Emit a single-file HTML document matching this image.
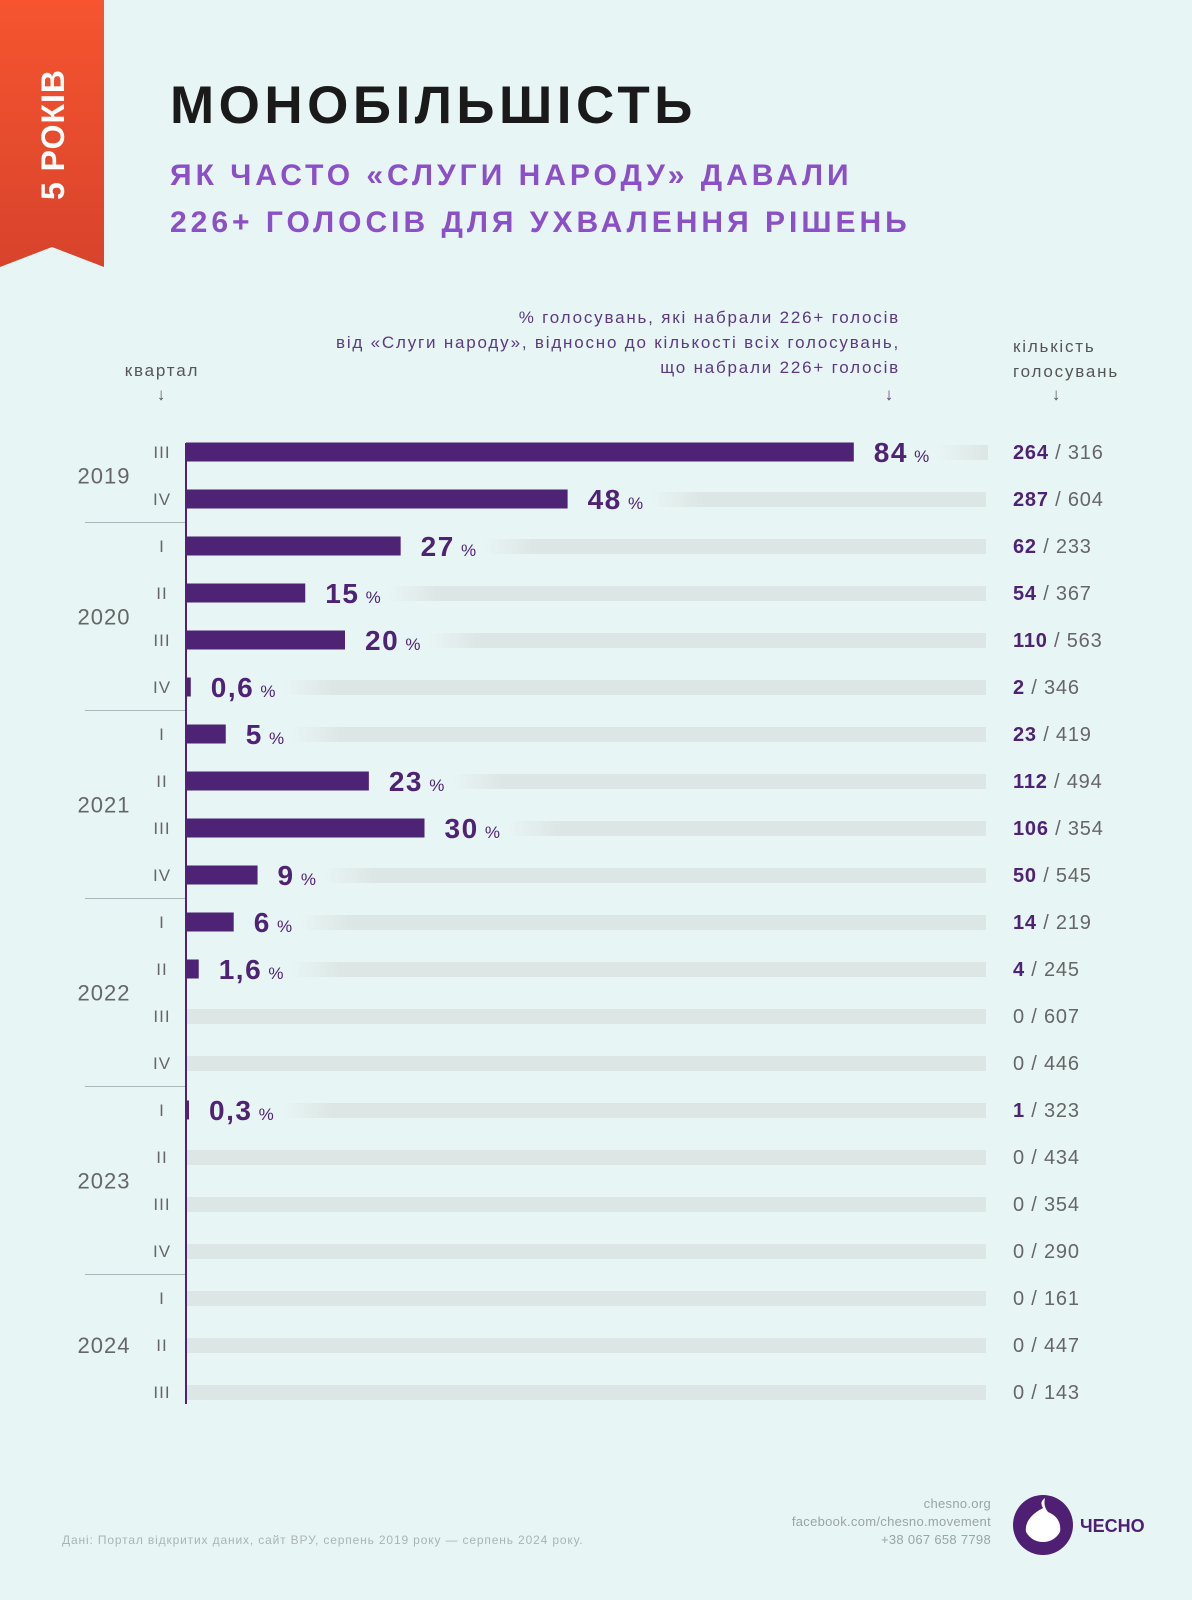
<!DOCTYPE html>
<html><head><meta charset="utf-8">
<style>
html,body{margin:0;padding:0;background:#e8f5f5;}
body{width:1192px;height:1600px;position:relative;overflow:hidden;font-family:"Liberation Sans","DejaVu Sans",sans-serif;}
</style></head>
<body>
<svg id="chart" width="1192" height="1600" viewBox="0 0 1192 1600" xmlns="http://www.w3.org/2000/svg" style="position:absolute;left:0;top:0">
<defs>
<linearGradient id="rib" x1="0" y1="0" x2="0" y2="1"><stop offset="0" stop-color="#f6552f"/><stop offset="1" stop-color="#d8432c"/></linearGradient>
<linearGradient id="fade" x1="0" y1="0" x2="1" y2="0"><stop offset="0" stop-color="#dce6e4" stop-opacity="0"/><stop offset="1" stop-color="#dce6e4"/></linearGradient>
</defs>
<g>
<polygon points="0,0 104,0 104,267 52,247 0,267" fill="url(#rib)"/>
<text x="0" y="0" transform="translate(64,200) rotate(-90)" font-size="32" font-weight="bold" fill="#ffffff" letter-spacing="1">5 РОКІВ</text>
</g>
<text x="170" y="123" font-size="53" font-weight="bold" fill="#1a1a1a" letter-spacing="4.5">МОНОБІЛЬШІСТЬ</text>
<text x="170" y="185" font-size="30" font-weight="bold" fill="#8b4fc8" letter-spacing="4">ЯК ЧАСТО «СЛУГИ НАРОДУ» ДАВАЛИ</text>
<text x="170" y="232" font-size="30" font-weight="bold" fill="#8b4fc8" letter-spacing="4">226+ ГОЛОСІВ ДЛЯ УХВАЛЕННЯ РІШЕНЬ</text>

<g font-size="17" fill="#5a3a80" text-anchor="end" letter-spacing="1.8">
<text x="900" y="323">% голосувань, які набрали 226+ голосів</text>
<text x="900" y="348">від «Слуги народу», відносно до кількості всіх голосувань,</text>
<text x="900" y="373">що набрали 226+ голосів</text>
<text x="895" y="400">↓</text>
</g>
<g font-size="17" fill="#555" text-anchor="middle" letter-spacing="1.8">
<text x="162" y="376">квартал</text><text x="162" y="400">↓</text>
</g>
<g font-size="17" fill="#555" letter-spacing="1.8">
<text x="1013" y="352">кількість</text><text x="1013" y="377">голосувань</text><text x="1057" y="400" text-anchor="middle">↓</text>
</g>
<g id="plot"></g>
<g>
<text x="62" y="1544" font-size="12" fill="#aab4b4" letter-spacing="0.85">Дані: Портал відкритих даних, сайт ВРУ, серпень 2019 року — серпень 2024 року.</text>
<g font-size="13" fill="#9aa4a4" text-anchor="end" letter-spacing="0.3">
<text x="991" y="1508">chesno.org</text>
<text x="991" y="1526">facebook.com/chesno.movement</text>
<text x="991" y="1544">+38 067 658 7798</text>
</g>
<g>
<circle cx="1043" cy="1525" r="30" fill="#4e1f73"/>
<path d="M1043 1508 q-4 -6 2 -10 q-2 8 3 14 q14 6 12 20 q-6 10 -17 10 q-11 0 -17 -10 q-2 -14 17 -24z" fill="#ffffff"/>
<text x="1080" y="1532" font-size="18" font-weight="bold" fill="#4e1f73">ЧЕСНО</text>
</g>
</g>
</svg>
<script>
const quarters = ["III","IV","I","II","III","IV","I","II","III","IV","I","II","III","IV","I","II","III","IV","I","II","III"];
const years = ["2019","2020","2021","2022","2023","2024"];
const yearRows = [2,4,4,4,4,3];
const values = [84,48,27,15,20,0.6,5,23,30,9,6,1.6,0,0,0.3,0,0,0,0,0,0];
const valueLabels = ["84","48","27","15","20","0,6","5","23","30","9","6","1,6","","","0,3","","","","","",""];
const passed = [264,287,62,54,110,2,23,112,106,50,14,4,0,0,1,0,0,0,0,0,0];
const totals = [316,604,233,367,563,346,419,494,354,545,219,245,607,446,323,434,354,290,161,447,143];

const NS="http://www.w3.org/2000/svg";
const plot=document.getElementById('plot');
const x0=186, pxPer=795/100, trackEnd=986;
const yRow=i=>452+47*i;
const xVal=v=>x0+v*pxPer;
function mk(tag,attrs,txt){const e=document.createElementNS(NS,tag);for(const k in attrs)e.setAttribute(k,attrs[k]);if(txt!==undefined)e.textContent=txt;plot.appendChild(e);return e;}
function measure(txt,size,weight){const t=mk('text',{x:0,y:-100,'font-size':size,'font-weight':weight,'letter-spacing':1.5},txt);const w=t.getComputedTextLength();plot.removeChild(t);return w;}

values.forEach((v,i)=>{
  const y=yRow(i);
  const bw=v>0?Math.max(xVal(v)-x0,3):0;
  let trackStart=x0;
  let lx=x0+bw+20;
  if(valueLabels[i]){
    const w1=measure(valueLabels[i],28,'bold');
    trackStart=lx+w1+30;
  }
  const tr=mk('rect',{x:trackStart,y:y-7,width:trackEnd-trackStart,height:15,fill:'#dce6e4'});
  
  
  if(valueLabels[i]){
    const fd=mk('rect',{x:trackStart,y:y-7,width:50,height:15,fill:'url(#fade)'});
    tr.setAttribute('x',trackStart+50);tr.setAttribute('width',Math.max(0,trackEnd-trackStart-50));
    
    
  }
  if(bw>0){
    const b=mk('rect',{x:x0,y:y-9.5,width:bw,height:19,fill:'#4e2274'});
    
    
  }
  if(valueLabels[i]){
    const t=mk('text',{x:lx,y:y+10,'font-size':28,'font-weight':'bold',fill:'#4e2274','letter-spacing':1.5});
    
    
    const s1=document.createElementNS(NS,'tspan');s1.textContent=valueLabels[i];t.appendChild(s1);
    const s2=document.createElementNS(NS,'tspan');s2.textContent=' %';s2.setAttribute('font-size','17');s2.setAttribute('font-weight','normal');t.appendChild(s2);
  }
  const q=mk('text',{x:162,y:y+6,'font-size':17,fill:'#666','text-anchor':'middle','letter-spacing':1},quarters[i]);
  
  
  const c=mk('text',{x:1013,y:y+7,'font-size':20,fill:'#666','letter-spacing':0.8});
  
  
  const c1=document.createElementNS(NS,'tspan');c1.textContent=passed[i];
  if(passed[i]>0){c1.setAttribute('font-weight','bold');c1.setAttribute('fill','#4e2274');}
  c.appendChild(c1);
  const c2=document.createElementNS(NS,'tspan');c2.textContent=' / '+totals[i];c.appendChild(c2);
});
let r=0;
years.forEach((yr,k)=>{
  const n=yearRows[k];
  const yc=(yRow(r)+yRow(r+n-1))/2;
  const t=mk('text',{x:104,y:yc+8,'font-size':22,fill:'#666','text-anchor':'middle','letter-spacing':1},yr);
  
  
  r+=n;
  if(k<years.length-1){
    const ly=yRow(r)-23.5;
    const l=mk('line',{x1:85,x2:x0,y1:ly,y2:ly,stroke:'#aab8bc','stroke-width':1});
    
    
  }
});
const ax=mk('line',{x1:x0,x2:x0,y1:443,y2:1404,stroke:'#4e2274','stroke-width':2});


</script>
</body></html>
